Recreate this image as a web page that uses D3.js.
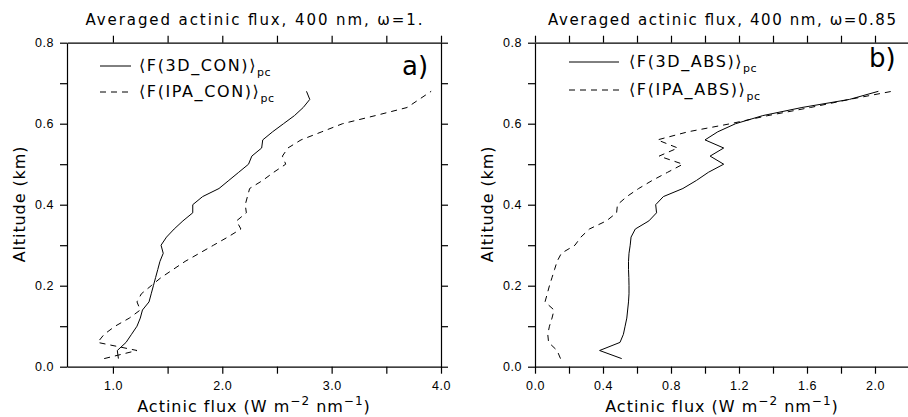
<!DOCTYPE html>
<html lang="en">
<head>
    <meta charset="UTF-8">
    <title>Averaged actinic flux</title>
    <script src="https://d3js.org/d3.v7.min.js"></script>
    <style>
        body {
            margin: 0;
            background: #fff;
        }

        svg {
            display: block;
            font-family: 'DejaVu Sans', sans-serif;
        }

        .axis path,
        .axis line {
            stroke: #000;
            stroke-width: 1.2px;
        }

        .axis text {
            font-size: 12.5px;
            letter-spacing: 0.5px;
            fill: #000;
        }

        .curve {
            fill: none;
            stroke: #000;
            stroke-width: 1px;
        }
    </style>
</head>
<body>
    <svg width="908" height="417" id="chart"></svg>

    <script>
        // altitude grid (km), shared by all four profiles
        const altitude = [0.02, 0.04, 0.06, 0.08, 0.10, 0.12, 0.14, 0.16, 0.18, 0.20, 0.22, 0.24,
            0.26, 0.28, 0.30, 0.32, 0.34, 0.36, 0.38, 0.40, 0.42, 0.44, 0.46, 0.48,
            0.50, 0.52, 0.54, 0.56, 0.58, 0.60, 0.62, 0.64, 0.66, 0.68];

        // panel a) omega = 1
        const flux3dCon = [1.05, 1.04, 1.12, 1.17, 1.22, 1.25, 1.27, 1.33, 1.35, 1.37, 1.39, 1.41,
            1.43, 1.46, 1.44, 1.49, 1.56, 1.64, 1.73, 1.73, 1.82, 1.97, 2.06, 2.15,
            2.24, 2.27, 2.36, 2.37, 2.46, 2.56, 2.66, 2.74, 2.80, 2.77];
        const fluxIpaCon = [0.92, 1.22, 0.86, 0.92, 1.02, 1.15, 1.25, 1.22, 1.26, 1.35, 1.44, 1.55,
            1.66, 1.79, 1.92, 2.05, 2.17, 2.13, 2.22, 2.21, 2.23, 2.25, 2.37, 2.47,
            2.58, 2.55, 2.60, 2.72, 2.91, 3.10, 3.40, 3.69, 3.80, 3.91];

        // panel b) omega = 0.85
        const flux3dAbs = [0.51, 0.38, 0.50, 0.52, 0.53, 0.54, 0.545, 0.55, 0.553, 0.553, 0.552, 0.55,
            0.55, 0.553, 0.56, 0.565, 0.59, 0.67, 0.715, 0.71, 0.755, 0.87, 0.95, 1.02,
            1.11, 1.03, 1.11, 1.00, 1.075, 1.18, 1.34, 1.57, 1.85, 2.02];
        const fluxIpaAbs = [0.15, 0.13, 0.08, 0.075, 0.085, 0.10, 0.112, 0.059, 0.072, 0.085, 0.10, 0.115,
            0.13, 0.155, 0.235, 0.27, 0.32, 0.42, 0.48, 0.485, 0.54, 0.61, 0.69, 0.78,
            0.87, 0.73, 0.84, 0.72, 0.90, 1.15, 1.37, 1.62, 1.85, 2.10];

        // ticks
        const yTicks = [0, 0.1, 0.2, 0.3, 0.4, 0.5, 0.6, 0.7, 0.8];
        const yLabels = [0, 0.2, 0.4, 0.6, 0.8];
        const xTicksA = [1.0, 1.5, 2.0, 2.5, 3.0, 3.5, 4.0];
        const xLabelsA = [1.0, 2.0, 3.0, 4.0];
        const xTicksB = [0, 0.2, 0.4, 0.6, 0.8, 1.0, 1.2, 1.4, 1.6, 1.8, 2.0, 2.2];
        const xLabelsB = [0, 0.4, 0.8, 1.2, 1.6, 2.0];

        const svg = d3.select("#chart");
        const plotTop = 42.7, plotBottom = 366.7;
        const fmt = d3.format(".1f");

        function drawPanel(p) {
            const g = svg.append("g");
            const x = d3.scaleLinear().domain(p.xDomain).range([p.left, p.right]);
            const y = d3.scaleLinear().domain([0, 0.8]).range([plotBottom, plotTop]);

            const labelOf = (list) => (d) => list.some(v => Math.abs(v - d) < 1e-6) ? fmt(d) : "";

            g.append("g").attr("class", "axis")
                .attr("transform", `translate(0,${plotBottom})`)
                .call(d3.axisBottom(x).tickValues(p.xTicks).tickSize(7).tickSizeOuter(0)
                    .tickPadding(7).tickFormat(labelOf(p.xLabels)));
            g.append("g").attr("class", "axis")
                .attr("transform", `translate(0,${plotTop})`)
                .call(d3.axisTop(x).tickValues(p.xTicks).tickSize(7).tickSizeOuter(0).tickFormat(""));
            g.append("g").attr("class", "axis")
                .attr("transform", `translate(${p.left},0)`)
                .call(d3.axisLeft(y).tickValues(yTicks).tickSize(7).tickSizeOuter(0)
                    .tickPadding(6).tickFormat(labelOf(yLabels)));
            g.append("g").attr("class", "axis")
                .attr("transform", `translate(${p.right},0)`)
                .call(d3.axisRight(y).tickValues(yTicks).tickSize(7).tickSizeOuter(0).tickFormat(""));

            g.selectAll(".axis text").attr("font-family", null);

            const line = d3.line().x(d => x(d[0])).y(d => y(d[1]));
            g.append("path").attr("class", "curve")
                .attr("d", line(d3.zip(p.solid, altitude)));
            g.append("path").attr("class", "curve")
                .attr("stroke-dasharray", "6,5")
                .attr("d", line(d3.zip(p.dashed, altitude)));

            // title
            g.append("text")
                .attr("x", (p.left + p.right) / 2).attr("y", 25)
                .attr("text-anchor", "middle")
                .attr("font-size", 15)
                .attr("textLength", p.titleWidth).attr("lengthAdjust", "spacing")
                .text(p.title);

            // x label
            const xl = g.append("text")
                .attr("x", (p.left + p.right) / 2).attr("y", 412)
                .attr("text-anchor", "middle")
                .attr("font-size", 16)
                .attr("letter-spacing", 1);
            xl.append("tspan").text("Actinic flux (W m");
            xl.append("tspan").attr("dy", -7).attr("font-size", 12).text("\u22122");
            xl.append("tspan").attr("dy", 7).text(" nm");
            xl.append("tspan").attr("dy", -7).attr("font-size", 12).text("\u22121");
            xl.append("tspan").attr("dy", 7).text(")");

            // y label
            g.append("text")
                .attr("transform", `translate(${p.left - 42},204) rotate(-90)`)
                .attr("text-anchor", "middle")
                .attr("font-size", 16)
                .attr("letter-spacing", 0.9)
                .text("Altitude (km)");

            // legend
            p.legend.forEach((lg, i) => {
                const ly = p.legendY[i];
                g.append("line")
                    .attr("x1", p.legendX[0]).attr("x2", p.legendX[1])
                    .attr("y1", ly).attr("y2", ly)
                    .attr("stroke", "#000").attr("stroke-width", 1)
                    .attr("stroke-dasharray", i === 1 ? "6,5" : null);
                const t = g.append("text")
                    .attr("x", p.legendX[2]).attr("y", ly + 5)
                    .attr("font-size", 16)
                    .attr("letter-spacing", 1.6);
                t.append("tspan").text("\u27E8F(" + lg + ")\u27E9");
                t.append("tspan").attr("dy", 5).attr("font-size", 11)
                    .attr("letter-spacing", 0.5).text("pc");
            });

            // panel letter
            g.append("text")
                .attr("x", p.letterX).attr("y", p.letterY)
                .attr("font-size", 26)
                .text(p.letter);
        }

        drawPanel({
            left: 67, right: 441,
            xDomain: [0.58, 4.0],
            xTicks: xTicksA, xLabels: xLabelsA,
            solid: flux3dCon, dashed: fluxIpaCon,
            title: "Averaged actinic flux, 400 nm, \u03C9=1.",
            titleWidth: 337,
            legend: ["3D_CON", "IPA_CON"],
            legendX: [100, 131, 139], legendY: [66, 92],
            letter: "a)", letterX: 402, letterY: 75
        });

        drawPanel({
            left: 535, right: 909,
            xDomain: [0, 2.2],
            xTicks: xTicksB, xLabels: xLabelsB,
            solid: flux3dAbs, dashed: fluxIpaAbs,
            title: "Averaged actinic flux, 400 nm, \u03C9=0.85",
            titleWidth: 348,
            legend: ["3D_ABS", "IPA_ABS"],
            legendX: [569, 619, 629], legendY: [62, 90],
            letter: "b)", letterX: 869, letterY: 67
        });
    </script>
</body>
</html>
